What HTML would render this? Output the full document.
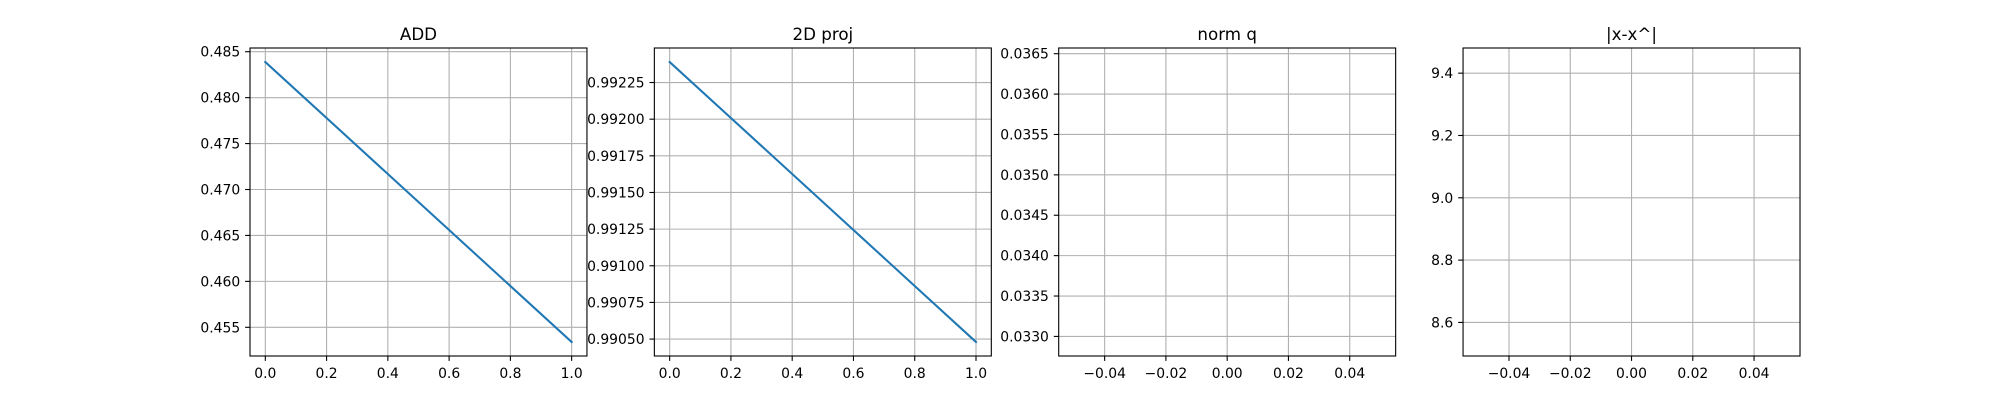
<!DOCTYPE html>
<html><head><meta charset="utf-8"><style>
html,body{margin:0;padding:0;background:#fff;}
svg{display:block;}
text{font-family:"DejaVu Sans","Liberation Sans",sans-serif;fill:#000;}
</style></head><body>
<svg id="fig" width="2000" height="400" viewBox="0 0 2000 400" xmlns="http://www.w3.org/2000/svg"></svg>
<script>
// ---- data ----
const addX = [0, 1];
const addY = [0.48388, 0.4534];
const projX = [0, 1];
const projY = [0.99239, 0.99048];
const normqX = [0];
const normqY = [0.034664];
const errX = [0];
const errY = [8.9865];

const titles = ["ADD", "2D proj", "norm q", "|x-x^|"];
const xTicks01 = [0, 0.2, 0.4, 0.6, 0.8, 1.0];
const xTickLabels01 = ["0.0", "0.2", "0.4", "0.6", "0.8", "1.0"];
const xTicksSingle = [-0.04, -0.02, 0, 0.02, 0.04];
const xTickLabelsSingle = ["\u22120.04", "\u22120.02", "0.00", "0.02", "0.04"];
const addYTicks = [0.455, 0.46, 0.465, 0.47, 0.475, 0.48, 0.485];
const addYTickLabels = ["0.455", "0.460", "0.465", "0.470", "0.475", "0.480", "0.485"];
const projYTicks = [0.9905, 0.99075, 0.991, 0.99125, 0.9915, 0.99175, 0.992, 0.99225];
const projYTickLabels = ["0.99050", "0.99075", "0.99100", "0.99125", "0.99150", "0.99175", "0.99200", "0.99225"];
const normqYTicks = [0.033, 0.0335, 0.034, 0.0345, 0.035, 0.0355, 0.036, 0.0365];
const normqYTickLabels = ["0.0330", "0.0335", "0.0340", "0.0345", "0.0350", "0.0355", "0.0360", "0.0365"];
const errYTicks = [8.6, 8.8, 9.0, 9.2, 9.4];
const errYTickLabels = ["8.6", "8.8", "9.0", "9.2", "9.4"];

(function () {
const NS = "http://www.w3.org/2000/svg";
const svg = document.getElementById("fig");
function mk(tag, attrs, parent) {
  const e = document.createElementNS(NS, tag);
  for (const k in attrs) e.setAttribute(k, attrs[k]);
  (parent || svg).appendChild(e);
  return e;
}
function limits(vals) {
  let lo = Math.min(...vals), hi = Math.max(...vals);
  if (lo === hi) { const d = Math.abs(lo) * 0.05 || 0.05; lo -= d; hi += d; }
  const m = (hi - lo) * 0.05;
  return [lo - m, hi + m];
}
const plotTop = 48, plotBottom = 356, axW = 336.96, gap = 404.35;
const panels = [
  {xs: addX, ys: addY, xt: xTicks01, xl: xTickLabels01, yt: addYTicks, yl: addYTickLabels, key: "add"},
  {xs: projX, ys: projY, xt: xTicks01, xl: xTickLabels01, yt: projYTicks, yl: projYTickLabels, key: "2d-proj"},
  {xs: normqX, ys: normqY, xt: xTicksSingle, xl: xTickLabelsSingle, yt: normqYTicks, yl: normqYTickLabels, key: "norm-q"},
  {xs: errX, ys: errY, xt: xTicksSingle, xl: xTickLabelsSingle, yt: errYTicks, yl: errYTickLabels, key: "x-error"}
];
panels.forEach((p, i) => {
  const L = 250 + i * gap, R = L + axW;
  const [x0, x1] = limits(p.xs);
  const [y0, y1] = limits(p.ys);
  const sx = v => L + (v - x0) / (x1 - x0) * (R - L);
  const sy = v => plotBottom - (v - y0) / (y1 - y0) * (plotBottom - plotTop);
  const g = mk("g", {});
  
  
  p.xt.forEach((t, j) => {
    const x = sx(t);
    mk("line", {x1: x, x2: x, y1: plotTop, y2: plotBottom, stroke: "#b0b0b0", "stroke-width": 1.1}, g);
    mk("line", {x1: x, x2: x, y1: plotBottom, y2: plotBottom + 4.9, stroke: "#000", "stroke-width": 1.1}, g);
    const tx = mk("text", {x: x, y: plotBottom + 22, "text-anchor": "middle", "font-size": "13.9px"}, g);
    tx.textContent = p.xl[j];
    
    
  });
  p.yt.forEach((t, j) => {
    const y = sy(t);
    mk("line", {x1: L, x2: R, y1: y, y2: y, stroke: "#b0b0b0", "stroke-width": 1.1}, g);
    mk("line", {x1: L - 4.9, x2: L, y1: y, y2: y, stroke: "#000", "stroke-width": 1.1}, g);
    const tx = mk("text", {x: L - 9.8, y: y + 5, "text-anchor": "end", "font-size": "13.9px"}, g);
    tx.textContent = p.yl[j];
    
    
  });
  if (p.xs.length > 1) {
    const d = p.xs.map((v, k) => (k ? "L" : "M") + sx(v) + "," + sy(p.ys[k])).join(" ");
    const ln = mk("path", {d: d, fill: "none", stroke: "#1f77b4", "stroke-width": 2.08, "stroke-linecap": "square"}, g);
    
    
  }
  const fr = mk("rect", {x: L, y: plotTop, width: R - L, height: plotBottom - plotTop, fill: "none", stroke: "#000", "stroke-width": 1.1}, g);
  
  
  const tt = mk("text", {x: (L + R) / 2, y: plotTop - 8, "text-anchor": "middle", "font-size": "16.7px"}, g);
  tt.textContent = titles[i];
  
  
});
})();
</script>
</body></html>
